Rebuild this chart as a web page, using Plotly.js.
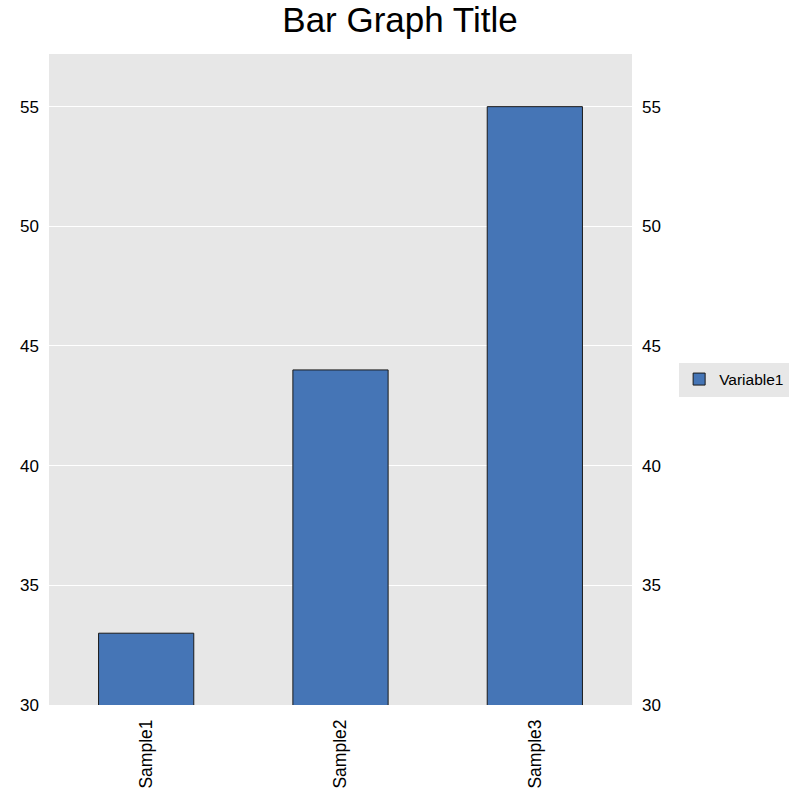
<!DOCTYPE html>
<html>
<head>
<meta charset="utf-8">
<script src="https://cdn.plot.ly/plotly-3.0.1.min.js"></script>
<style>html,body{margin:0;padding:0;background:#fff;}#chart{width:800px;height:800px;}</style>
</head>
<body>
<div id="chart"></div>
<script>
const categories = ["Sample1", "Sample2", "Sample3"];
const variable1 = [33, 44, 55];
const seriesName = "Variable1";
const chartTitle = "Bar Graph Title";
const yTicks = [30, 35, 40, 45, 50, 55];

const font = "Liberation Sans, Arial, sans-serif";

const traces = [
  {
    type: "bar",
    x: categories,
    y: variable1,
    name: seriesName,
    marker: {color: "#4575b6", line: {color: "#1a1a1a", width: 1}},
    hoverinfo: "x+y"
  },
  {
    type: "scatter",
    mode: "lines",
    x: categories,
    y: variable1,
    yaxis: "y2",
    opacity: 0,
    showlegend: false,
    hoverinfo: "skip"
  }
];

const axisY = {
  range: [30, 57.2],
  tickvals: yTicks,
  ticktext: yTicks.map(String),
  showgrid: true,
  gridcolor: "#ffffff",
  gridwidth: 1,
  zeroline: false,
  showline: false,
  ticks: "",
  tickfont: {family: font, size: 17, color: "#000"},
  ticklabelstandoff: 9
};

const layout = {
  width: 800,
  height: 800,
  paper_bgcolor: "#ffffff",
  plot_bgcolor: "#e7e7e7",
  margin: {l: 49, r: 167, t: 54, b: 95},
  title: {text: chartTitle, font: {family: font, size: 35, color: "#000"}, x: 0.5, xanchor: "center", y: 0.975, yanchor: "middle"},
  bargap: 0.51,
  showlegend: true,
  legend: {
    x: 1.079, xanchor: "left", y: 0.5, yanchor: "middle",
    bgcolor: "#e7e7e7",
    font: {family: font, size: 15.5, color: "#000"}
  },
  xaxis: {
    type: "category",
    range: [-0.5, 2.5],
    tickangle: -90,
    showgrid: false,
    zeroline: false,
    showline: false,
    ticks: "",
    tickfont: {family: font, size: 17.5, color: "#000"},
    ticklabelstandoff: 10
  },
  yaxis: Object.assign({}, axisY),
  yaxis2: Object.assign({}, axisY, {overlaying: "y", side: "right", showgrid: false})
};

Plotly.newPlot("chart", traces, layout, {displayModeBar: false, staticPlot: true});
</script>
</body>
</html>
